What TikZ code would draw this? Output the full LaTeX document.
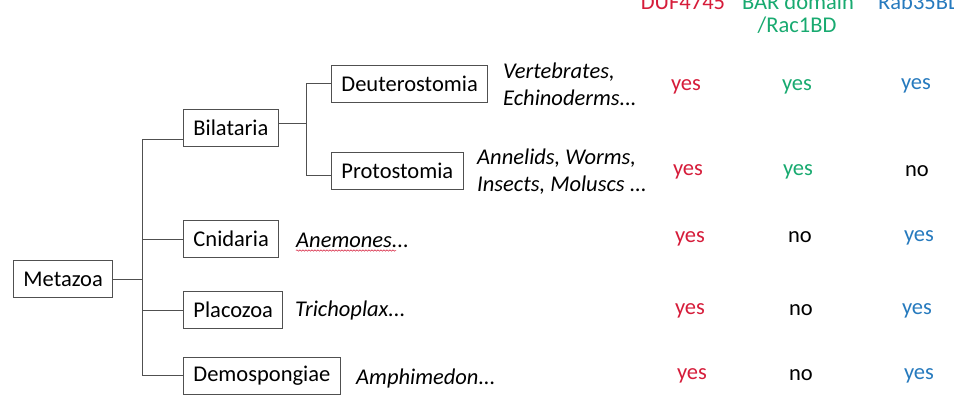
\documentclass[tikz,border=0pt]{standalone}
\usepackage{fontspec}
\setmainfont{Carlito}
\usetikzlibrary{decorations.pathmorphing}
\definecolor{cred}{RGB}{214,28,58}
\definecolor{cgreen}{RGB}{24,170,112}
\definecolor{cblue}{RGB}{38,122,190}
\definecolor{lgray}{RGB}{80,80,80}
\tikzset{
  taxon/.style={draw=lgray, line width=0.9pt, anchor=west, minimum height=37pt, inner xsep=10pt, inner ysep=0pt, font=\fontsize{22.5}{26}\selectfont, text=black},
  species/.style={anchor=west, align=left, inner sep=0pt, font=\fontsize{22.5}{27}\selectfont\itshape, text=black},
  ans/.style={inner sep=0pt, font=\fontsize{22.5}{26}\selectfont},
  head/.style={inner sep=0pt, align=center, font=\fontsize{22.5}{23}\selectfont},
  link/.style={draw=lgray, line width=0.9pt}
}
\begin{document}
\begin{tikzpicture}[x=1pt,y=-1pt]
\useasboundingbox (0,0) rectangle (954,394);
\clip (0,0) rectangle (954,394);
\fill[white] (0,0) rectangle (954,394);
% headers
\node[head, text=cred, anchor=base] (h1) at (683,9) {DUF4745};
\node[head, text=cgreen, anchor=base] (h2) at (798,9) {BAR domain};
\node[head, text=cgreen, anchor=base] (h2b) at (797,32) {/Rac1BD};
\node[head, text=cblue, anchor=base west] (h3) at (878,9) {Rab35BD};
% taxa
\node[taxon] (met) at (13,279) {Metazoa};
\node[taxon] (bil) at (183,128) {Bilataria};
\node[taxon] (deu) at (331,84) {Deuterostomia};
\node[taxon] (pro) at (331,171) {Protostomia};
\node[taxon] (cni) at (183,239) {Cnidaria};
\node[taxon] (pla) at (183,310) {Placozoa};
\node[taxon] (dem) at (183,376) {Demospongiae};
% connectors
\coordinate (tt) at (142,139);
\coordinate (tb) at (142,375);
\coordinate (bj) at (306,123);
\coordinate (bt) at (306,83);
\coordinate (bb) at (306,175);
\draw[link] (met.east) -- (met.east -| tt);
\draw[link] (tt) -- (tb);
\draw[link] (tt) -- (tt -| bil.west);
\draw[link] (cni.west -| tt) -- (cni.west);
\draw[link] (pla.west -| tt) -- (pla.west);
\draw[link] (tb) -- (tb -| dem.west);
\draw[link] (bj -| bil.east) -- (bj);
\draw[link] (bt) -- (bb);
\draw[link] (bt) -- (bt -| deu.west);
\draw[link] (bb) -- (bb -| pro.west);
% species
\node[species] (sdeu) at (503,84) {Vertebrates,\\Echinoderms...};
\node[species] (spro) at (477,172) {Annelids, Worms,\\Insects, Moluscs ...};
\node[species] (scni) at (296,240) {Anemones...};
\node[species] (spla) at (295,310) {Trichoplax...};
\node[species] (sdem) at (356,378) {Amphimedon...};
\draw[cred, line width=0.5pt, decorate, decoration={snake, segment length=3pt, amplitude=0.7pt}] (scni.south west) ++(0,3) -- ++(100,0);
% answers
\node[ans, text=cred] (a11) at (686,87) {yes};
\node[ans, text=cgreen] (a12) at (797,87) {yes};
\node[ans, text=cblue] (a13) at (916,86) {yes};
\node[ans, text=cred] (a21) at (688,172) {yes};
\node[ans, text=cgreen] (a22) at (798,172) {yes};
\node[ans, text=black] (a23) at (917,171) {no};
\node[ans, text=cred] (a31) at (690,239) {yes};
\node[ans, text=black] (a32) at (800,237) {no};
\node[ans, text=cblue] (a33) at (919,238) {yes};
\node[ans, text=cred] (a41) at (690,311) {yes};
\node[ans, text=black] (a42) at (801,310) {no};
\node[ans, text=cblue] (a43) at (917,311) {yes};
\node[ans, text=cred] (a51) at (692,376) {yes};
\node[ans, text=black] (a52) at (801,375) {no};
\node[ans, text=cblue] (a53) at (919,376) {yes};
\end{tikzpicture}
\end{document}
